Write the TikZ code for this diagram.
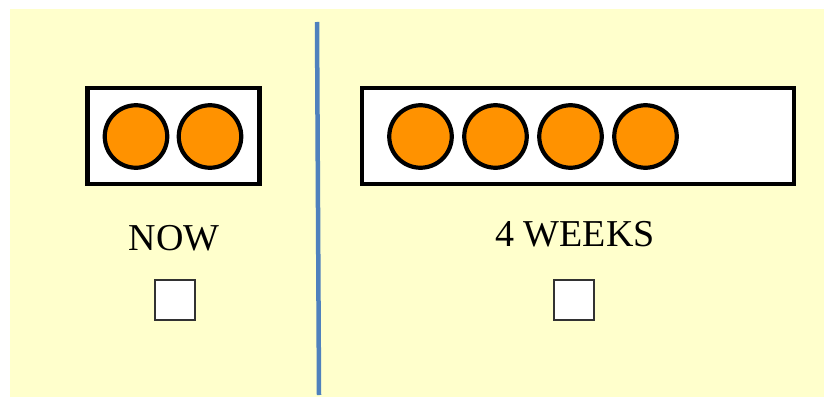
\documentclass[tikz,border=0pt]{standalone}
\usepackage{fontspec}
\setmainfont{Liberation Serif}
\definecolor{bgyellow}{RGB}{255,255,204}
\definecolor{dotorange}{RGB}{255,146,0}
\definecolor{divblue}{RGB}{79,129,189}
\definecolor{boxgray}{RGB}{50,50,50}
\tikzset{
  panel/.style={draw=black, line width=4.8pt, fill=white, inner sep=0pt},
  dot/.style={circle, draw=black, line width=4.2pt, fill=dotorange, minimum size=62.5pt, inner sep=0pt},
  label/.style={font=\fontsize{38}{40}\selectfont, anchor=base, inner sep=0pt},
  tick/.style={draw=boxgray, line width=2.2pt, fill=white, minimum size=40pt, inner sep=0pt},
}
\begin{document}
\begin{tikzpicture}[x=1pt,y=-1pt]
\useasboundingbox (0,0) rectangle (824,398);
\fill[bgyellow] (10,9) rectangle (824,397);
% divider
\coordinate (dtop) at (317,22);
\coordinate (dbot) at (319,395);
\draw[divblue, line width=4.5pt] (dtop) -- (dbot);
% left panel
\node[panel, minimum width=172pt, minimum height=96pt] (nowbox) at (173.5,136) {};
\node[dot] (n1) at (136,136.5) {};
\node[dot] (n2) at (210,136.5) {};
\node[label] (nowlbl) at (174,250) {NOW};
\node[tick] (nowchk) at (175,300) {};
% right panel
\node[panel, minimum width=432pt, minimum height=96pt] (wkbox) at (578,136) {};
\node[dot] (w1) at (420.5,136.5) {};
\node[dot] (w2) at (495.5,136.5) {};
\node[dot] (w3) at (570.5,136.5) {};
\node[dot] (w4) at (645.5,136.5) {};
\node[label] (wklbl) at (575,246) {4 WEEKS};
\node[tick] (wkchk) at (574,300) {};
\end{tikzpicture}
\end{document}
